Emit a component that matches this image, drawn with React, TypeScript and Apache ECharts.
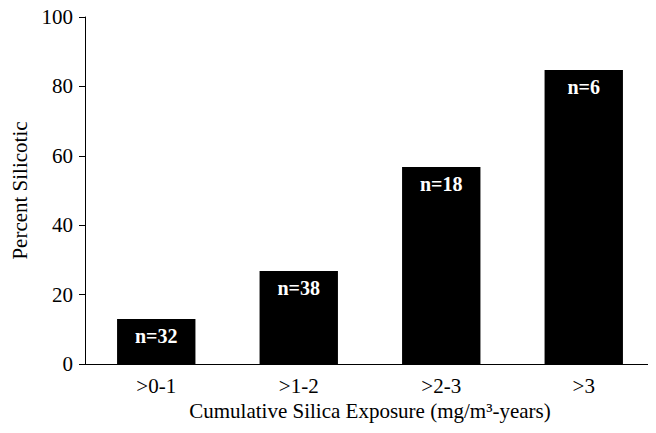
import React, { useEffect, useRef } from "react";
import * as echarts from "echarts";

const categories = [">0-1", ">1-2", ">2-3", ">3"];
const percentSilicotic = [13, 26.8, 56.8, 84.7];
const sampleLabels = ["n=32", "n=38", "n=18", "n=6"];
const yTicks = { min: 0, max: 100, interval: 20 };

export default function App() {
  const ref = useRef<HTMLDivElement>(null);
  useEffect(() => {
    if (!ref.current) return;
    const chart = echarts.init(ref.current, null, { renderer: "svg" });
    chart.setOption({
      animation: false,
      grid: { left: 85, right: 1, top: 17, bottom: 69 },
      xAxis: {
        type: "category",
        data: categories,
        axisLabel: { fontFamily: "Liberation Serif", fontSize: 21, color: "#000", margin: 11 },
        name: "Cumulative Silica Exposure (mg/m³-years)",
        nameLocation: "middle",
        nameGap: 36,
        nameTextStyle: { fontFamily: "Liberation Serif", fontSize: 21, color: "#000" },
        axisLine: { lineStyle: { color: "#000" } },
        axisTick: { show: false },
      },
      yAxis: {
        type: "value",
        min: yTicks.min,
        max: yTicks.max,
        interval: yTicks.interval,
        axisLabel: { fontFamily: "Liberation Serif", fontSize: 21, color: "#000", margin: 12 },
        name: "Percent Silicotic",
        nameLocation: "middle",
        nameGap: 53,
        nameTextStyle: { fontFamily: "Liberation Serif", fontSize: 21, color: "#000" },
        axisLine: { show: true, lineStyle: { color: "#000" } },
        axisTick: { show: true, length: 6, lineStyle: { color: "#000" } },
        splitLine: { show: false },
      },
      series: [
        {
          type: "bar",
          barWidth: "55%",
          data: percentSilicotic.map((v, i) => ({ value: v, label: { formatter: sampleLabels[i] } })),
          itemStyle: { color: "#000" },
          label: {
            show: true,
            position: "insideTop",
            distance: 7,
            fontFamily: "Liberation Serif",
            fontSize: 20,
            fontWeight: "bold",
            color: "#fff",
          },
        },
      ],
    });
    return () => chart.dispose();
  }, []);
  return <div ref={ref} style={{ width: 656, height: 433, marginLeft: -8, marginTop: -8 }} />;
}
